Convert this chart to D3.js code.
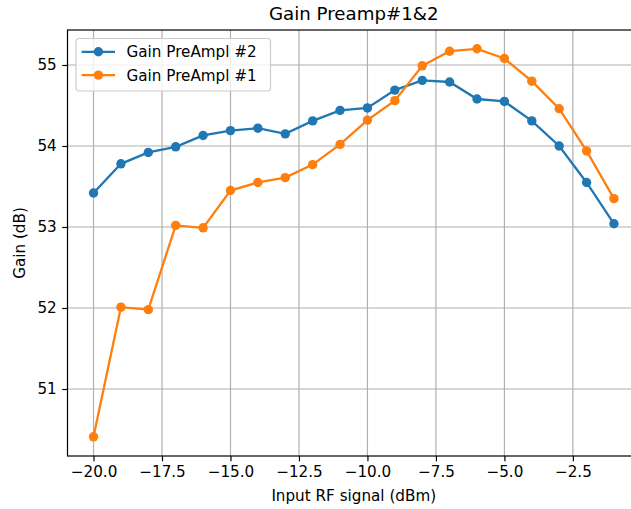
<!DOCTYPE html>
<html>
<head>
<meta charset="utf-8">
<script src="https://cdn.jsdelivr.net/npm/d3@7"></script>
<style>
  body { margin: 0; background: #fff; }
  svg { font-family: "DejaVu Sans", sans-serif; display: block; }
</style>
</head>
<body>
<svg id="chart" width="631" height="509"></svg>
<script>
const inputPower = [-20, -19, -18, -17, -16, -15, -14, -13, -12, -11, -10, -9, -8, -7, -6, -5, -4, -3, -2, -1]
const gainPre2 = [53.42, 53.78, 53.92, 53.99, 54.13, 54.19, 54.22, 54.15, 54.31, 54.44, 54.47, 54.69, 54.81, 54.79, 54.58, 54.55, 54.31, 54.00, 53.55, 53.04]
const gainPre1 = [50.41, 52.01, 51.98, 53.02, 52.99, 53.45, 53.55, 53.61, 53.77, 54.02, 54.32, 54.56, 54.99, 55.17, 55.20, 55.08, 54.80, 54.46, 53.94, 53.35]
const xTicks = [-20, -17.5, -15, -12.5, -10, -7.5, -5, -2.5]
const yTicks = [51, 52, 53, 54, 55]

const series = [
    { name: "Gain PreAmpl #2", values: gainPre2, color: "#1f77b4" },
    { name: "Gain PreAmpl #1", values: gainPre1, color: "#ff7f0e" }
]

const margins = { left: 67.5, top: 30, bottom: 53 }
const svgWidth = 631
const svgHeight = 509
const plotLeft = margins.left
const plotRight = 640
const plotTop = margins.top
const plotBottom = svgHeight - margins.bottom
const fontSize = "15.2px"
const tickLen = 5.3

const svg = d3.select("#chart")

const xScale = d3.scaleLinear()
    .domain([-20.95, -0.05])
    .range([plotLeft, plotRight])
const yScale = d3.scaleLinear()
    .domain([50.173, 55.432])
    .range([plotBottom, plotTop])

// grid
const grid = svg.append("g")
grid.selectAll(".gx")
    .data(xTicks)
    .enter()
    .append("line")
    .attr("x1", d => xScale(d))
    .attr("x2", d => xScale(d))
    .attr("y1", plotTop)
    .attr("y2", plotBottom)
    .attr("stroke", "#b0b0b0")
    .attr("stroke-width", 1.2)
grid.selectAll(".gy")
    .data(yTicks)
    .enter()
    .append("line")
    .attr("x1", plotLeft)
    .attr("x2", plotRight)
    .attr("y1", d => yScale(d))
    .attr("y2", d => yScale(d))
    .attr("stroke", "#b0b0b0")
    .attr("stroke-width", 1.2)

// axes
const fmtX = d => d3.format(".1f")(d).replace("-", "\u2212")
const xAxis = svg.append("g")
    .attr("transform", `translate(0,${plotBottom})`)
    .call(d3.axisBottom(xScale).tickValues(xTicks).tickFormat(fmtX).tickSize(tickLen).tickPadding(4.5))
const yAxis = svg.append("g")
    .attr("transform", `translate(${plotLeft},0)`)
    .call(d3.axisLeft(yScale).tickValues(yTicks).tickFormat(d3.format("d")).tickSize(tickLen).tickPadding(5.5))

;[xAxis, yAxis].forEach(ax => {
    ax.select(".domain").remove()
    ax.selectAll(".tick line").attr("stroke", "#000").attr("stroke-width", 1.2)
    ax.selectAll(".tick text")
        .attr("fill", "#000")
        .style("font-size", fontSize)
        .style("font-family", "DejaVu Sans")
})

// frame
svg.append("rect")
    .attr("x", plotLeft)
    .attr("y", plotTop)
    .attr("width", plotRight - plotLeft)
    .attr("height", plotBottom - plotTop)
    .attr("fill", "none")
    .attr("stroke", "#000")
    .attr("stroke-width", 1.2)

// lines and markers
const line = d3.line()
    .x((d, i) => xScale(inputPower[i]))
    .y(d => yScale(d))

series.forEach(s => {
    svg.append("path")
        .datum(s.values)
        .attr("d", line)
        .attr("fill", "none")
        .attr("stroke", s.color)
        .attr("stroke-width", 2.3)
    svg.append("g")
        .selectAll("circle")
        .data(s.values)
        .enter()
        .append("circle")
        .attr("cx", (d, i) => xScale(inputPower[i]))
        .attr("cy", d => yScale(d))
        .attr("r", 4.7)
        .attr("fill", s.color)
})

// labels
svg.append("text")
    .attr("x", (plotLeft + plotRight) / 2)
    .attr("y", 20)
    .attr("text-anchor", "middle")
    .style("font-size", "18.2px")
    .text("Gain Preamp#1&2")
svg.append("text")
    .attr("x", (plotLeft + plotRight) / 2)
    .attr("y", 501)
    .attr("text-anchor", "middle")
    .style("font-size", fontSize)
    .text("Input RF signal (dBm)")
svg.append("text")
    .attr("transform", `translate(24.5,${(plotTop + plotBottom) / 2}) rotate(-90)`)
    .attr("text-anchor", "middle")
    .style("font-size", fontSize)
    .text("Gain (dB)")

// legend
const legend = svg.append("g").attr("transform", "translate(76,38.5)")
legend.append("rect")
    .attr("width", 194.5)
    .attr("height", 52.5)
    .attr("rx", 3)
    .attr("fill", "#fff")
    .attr("fill-opacity", 0.8)
    .attr("stroke", "#cccccc")
    .attr("stroke-width", 1.2)
series.forEach((s, i) => {
    const y = 13.3 + i * 23.3
    legend.append("line")
        .attr("x1", 5.7)
        .attr("x2", 39)
        .attr("y1", y)
        .attr("y2", y)
        .attr("stroke", s.color)
        .attr("stroke-width", 2.3)
    legend.append("circle")
        .attr("cx", 22.4)
        .attr("cy", y)
        .attr("r", 4.7)
        .attr("fill", s.color)
    legend.append("text")
        .attr("x", 50.5)
        .attr("y", y)
        .attr("dy", "0.36em")
        .style("font-size", fontSize)
        .text(s.name)
})
</script>
</body>
</html>
